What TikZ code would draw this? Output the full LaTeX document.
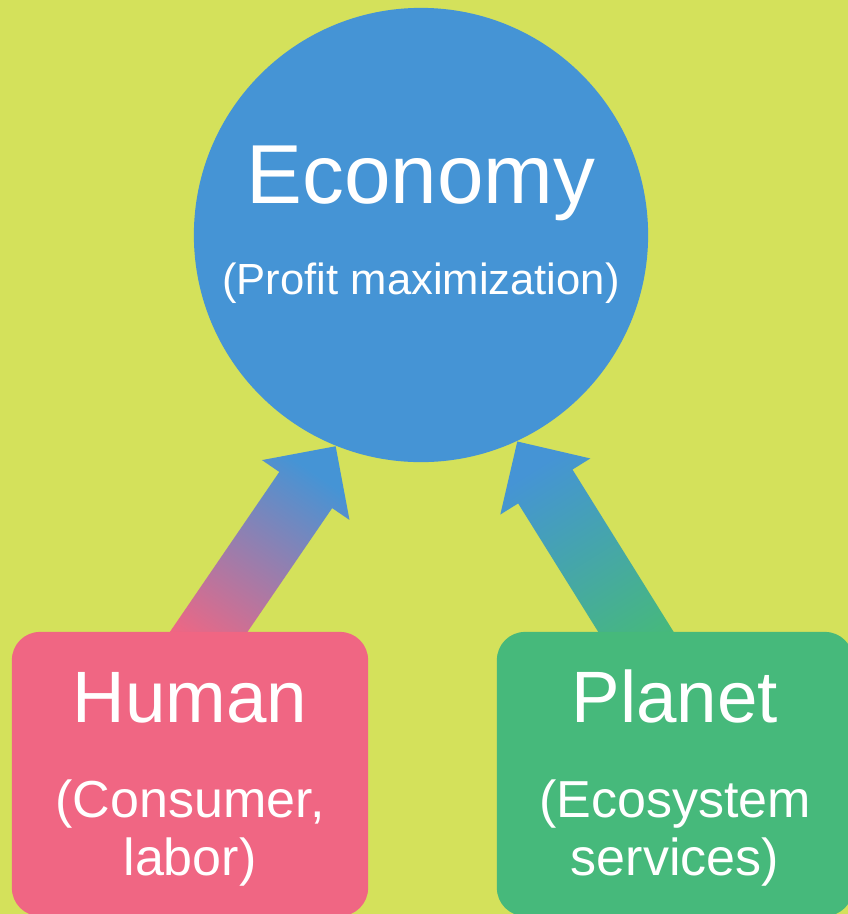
\documentclass[tikz,border=0pt]{standalone}
\usepackage{fontspec}
\setmainfont{Liberation Sans}
\usetikzlibrary{calc,positioning}

\definecolor{leafbg}{HTML}{D4E15B}
\definecolor{econblue}{HTML}{4594D5}
\definecolor{humanpink}{HTML}{F06683}
\definecolor{planetgreen}{HTML}{46B97B}

\pgfdeclarelayer{backdrop}
\pgfdeclarelayer{arrows}
\pgfsetlayers{backdrop,arrows,main}

\newcommand{\bigfont}{\fontsize{23.8}{28}\selectfont}
\newcommand{\titlefont}{\fontsize{20.7}{24}\selectfont}
\newcommand{\notefont}{\fontsize{14.8}{16.5}\selectfont}
\newcommand{\econfont}{\fontsize{12.4}{15}\selectfont}

% fat arrow from #1 (tail) to #2 (tip), shaded with #3
\newcommand{\fatarrow}[3]{%
  \coordinate (#1 neck) at ($(#2)!0.53cm!(#1)$);
  \shade[#3] ($(#1)!0.32cm!90:(#2)$) -- ($(#1 neck)!0.32cm!90:(#2)$)
    -- ($(#1 neck)!0.53cm!90:(#2)$) -- (#2)
    -- ($(#1 neck)!0.53cm!-90:(#2)$) -- ($(#1 neck)!0.32cm!-90:(#2)$)
    -- ($(#1)!0.32cm!-90:(#2)$) -- cycle;}

\begin{document}
\begin{tikzpicture}[x=0.01cm,y=-0.01cm,
    box/.style={rounded corners=0.28cm,minimum width=3.56cm,minimum height=2.84cm,inner sep=0pt},
    boxtitle/.style={text=white,font=\titlefont,anchor=base,inner sep=0pt},
    boxnote/.style={text=white,font=\notefont,anchor=base,inner sep=0pt,align=center}]
    \useasboundingbox (0,0) rectangle (848,914);
    \begin{pgfonlayer}{backdrop}
        \fill[leafbg] (0,0) rectangle (848,914);
    \end{pgfonlayer}

    \node[circle,fill=econblue,minimum size=4.54cm,inner sep=0pt] (economy) at (421,235) {};
    \node[boxtitle,font=\bigfont] (econ title) at ([yshift=0.31cm]economy.center) {Economy};
    \node[boxnote,font=\econfont] (econ note) at ([yshift=-0.59cm]economy.center) {(Profit maximization)};

    \node[box,fill=humanpink] (human) at (190,774) {};
    \node[boxtitle] (human title) at ([yshift=-0.91cm]human.north) {Human};
    \node[boxnote] (human note) at ([yshift=-2.44cm]human.north) {(Consumer,\\labor)};

    \node[box,fill=planetgreen] (planet) at (675,774) {};
    \node[boxtitle] (planet title) at ([yshift=-0.91cm]planet.north) {Planet};
    \node[boxnote] (planet note) at ([yshift=-2.44cm]planet.north) {(Ecosystem\\services)};

    \coordinate (h tail) at ([yshift=-0.28cm]human.north);
    \coordinate (p tail) at ([xshift=-0.22cm,yshift=-0.28cm]planet.north);
    \begin{pgfonlayer}{arrows}
        \fatarrow{h tail}{economy.248}{bottom color=humanpink,top color=econblue,shading angle=-34}
        \fatarrow{p tail}{economy.295}{bottom color=planetgreen,top color=econblue,shading angle=32}
    \end{pgfonlayer}
\end{tikzpicture}
\end{document}
